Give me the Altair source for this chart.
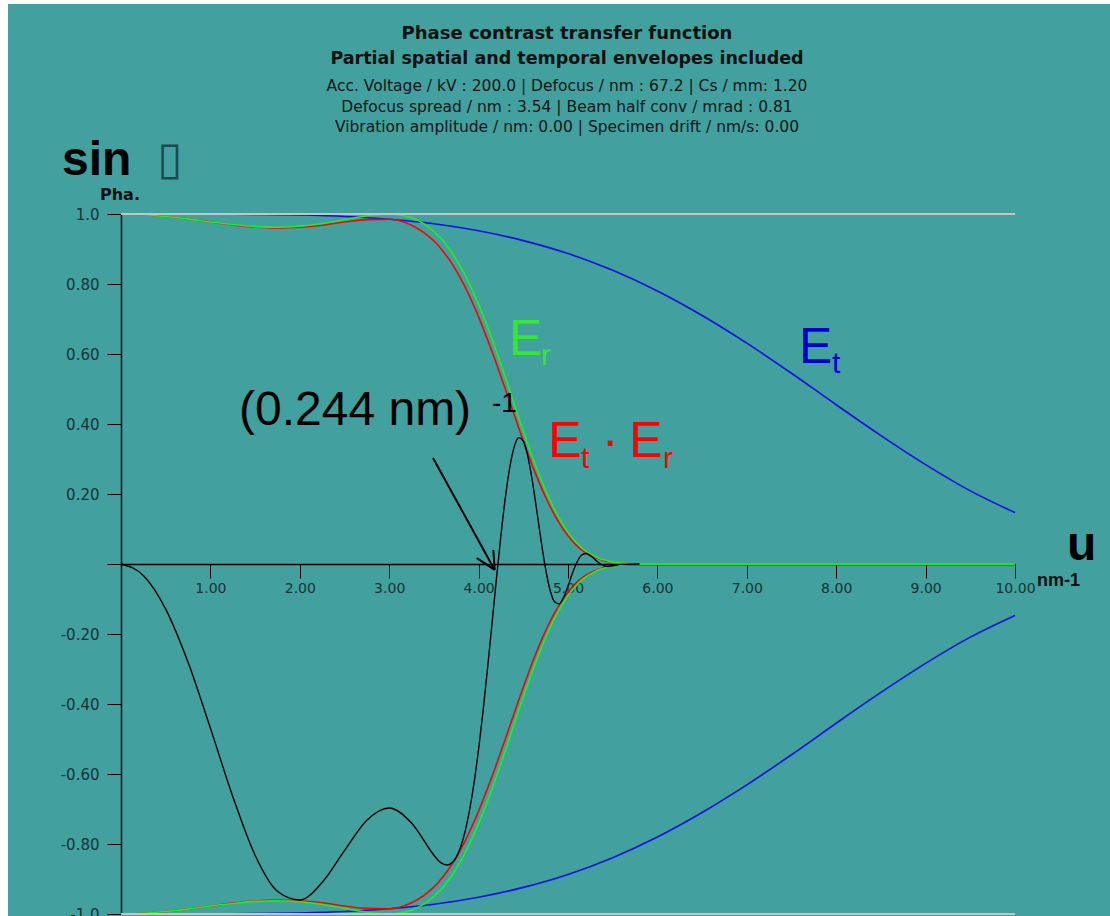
import altair as alt
import pandas as pd

# Spatial frequency grid (nm^-1) for the envelope and CTF curves
u_fine = [0.0, 0.25, 0.5, 0.75, 1.0, 1.25, 1.5, 1.75, 2.0, 2.25, 2.5, 2.75, 3.0, 3.25, 3.5,
          3.55, 3.6, 3.65, 3.7, 3.75, 3.8, 3.85, 3.9, 3.95, 4.0,
          4.05, 4.1, 4.15, 4.2, 4.25, 4.3, 4.35, 4.4, 4.45, 4.5,
          4.55, 4.6, 4.65, 4.7, 4.75, 4.8, 4.85, 4.9, 4.95, 5.0,
          5.05, 5.1, 5.15, 5.2, 5.25, 5.3, 5.35, 5.4, 5.45, 5.5,
          5.6, 5.8, 6.0, 10.0]

# Spatial coherence envelope E_r
spatial_env = [1.000, 0.998, 0.993, 0.986, 0.977, 0.970, 0.964, 0.962, 0.965, 0.973, 0.984, 0.995, 1.000, 0.989, 0.950,
               0.938, 0.924, 0.908, 0.890, 0.870, 0.848, 0.825, 0.799, 0.771, 0.741,
               0.710, 0.677, 0.643, 0.607, 0.570, 0.533, 0.494, 0.456, 0.418, 0.380,
               0.344, 0.308, 0.274, 0.241, 0.210, 0.182, 0.155, 0.131, 0.110, 0.091,
               0.074, 0.060, 0.047, 0.037, 0.029, 0.022, 0.016, 0.012, 0.009, 0.006,
               0.003, 0.0, 0.0, 0.0]

# Combined envelope E_t * E_r
combined_env = [1.000, 0.998, 0.993, 0.986, 0.977, 0.969, 0.963, 0.960, 0.962, 0.968, 0.977, 0.984, 0.985, 0.968, 0.923,
                0.910, 0.894, 0.877, 0.859, 0.838, 0.815, 0.791, 0.764, 0.736, 0.706,
                0.674, 0.641, 0.607, 0.572, 0.535, 0.499, 0.462, 0.425, 0.388, 0.352,
                0.317, 0.282, 0.250, 0.219, 0.191, 0.164, 0.140, 0.118, 0.098, 0.081,
                0.065, 0.052, 0.041, 0.032, 0.025, 0.019, 0.014, 0.010, 0.007, 0.005,
                0.002, 0.0, 0.0, 0.0]

# Phase contrast transfer function (damped sin chi)
u_ctf = u_fine[:57]
ctf = [0.0, -0.033, -0.129, -0.281, -0.469, -0.664, -0.832, -0.935, -0.960, -0.910, -0.819, -0.732, -0.697, -0.740, -0.832,
       -0.847, -0.857, -0.860, -0.854, -0.838, -0.808, -0.763, -0.702, -0.624, -0.529,
       -0.420, -0.298, -0.170, -0.041, 0.082, 0.191, 0.278, 0.336, 0.361, 0.351,
       0.308, 0.239, 0.154, 0.065, -0.015, -0.075, -0.108, -0.114, -0.096, -0.063,
       -0.026, 0.005, 0.025, 0.030, 0.024, 0.013, 0.002, -0.005, -0.007, -0.005,
       -0.001, 0.0]

# Temporal coherence envelope E_t
u_temporal = [0.0, 0.5, 1.0, 1.5, 2.0, 2.5, 3.0, 3.5, 4.0, 4.5, 5.0,
              5.5, 6.0, 6.5, 7.0, 7.5, 8.0, 8.5, 9.0, 9.5, 10.0]
temporal_env = [1.000, 1.000, 1.000, 0.999, 0.997, 0.993, 0.985, 0.972, 0.952, 0.924, 0.887,
                0.839, 0.780, 0.710, 0.631, 0.545, 0.455, 0.367, 0.284, 0.209, 0.147]

x_ticks = [1, 2, 3, 4, 5, 6, 7, 8, 9, 10]
y_ticks = [1.0, 0.8, 0.6, 0.4, 0.2, 0.0, -0.2, -0.4, -0.6, -0.8, -1.0]

W, H = 894, 700
BG = "#42A09E"
LABEL_FONT = "DejaVu Sans"


def mirrored(u, v):
    rows = []
    for branch, sign in (("upper", 1), ("lower", -1)):
        for a, b in zip(u, v):
            rows.append({"u": a, "v": sign * b, "branch": branch})
    return pd.DataFrame(rows)


xs = alt.Scale(domain=[0, 10], nice=False, zero=False)
ys = alt.Scale(domain=[-1, 1], nice=False, zero=False)

x_axis = alt.Axis(values=x_ticks, format=".2f", offset=-H / 2, tickSize=14, tickColor="black",
                  domainColor="black", domainWidth=1.5, labelFont=LABEL_FONT, labelFontSize=14,
                  labelColor="#163434", labelPadding=3, grid=False, title=None, labelFlush=False)
y_axis = alt.Axis(values=y_ticks, tickSize=14, tickColor="black", domainColor="black", domainWidth=1.5,
                  labelExpr="datum.value == 0 ? '' : (datum.value < 0 ? '-' : '') + "
                            "format(abs(datum.value), abs(datum.value) == 1 ? '.1f' : '.2f')",
                  labelFont=LABEL_FONT, labelFontSize=15, labelColor="#163434", labelPadding=8,
                  grid=False, title=None)

X = alt.X("u:Q", scale=xs, axis=x_axis)
Y = alt.Y("v:Q", scale=ys, axis=y_axis)


def curve(df, color, width):
    return alt.Chart(df).mark_line(color=color, strokeWidth=width, interpolate="monotone").encode(
        x=X, y=Y, detail="branch:N", order="u:Q")


blue = curve(mirrored(u_temporal, temporal_env), "#1010E0", 1.6)
red = curve(mirrored(u_fine, combined_env), "#FF0000", 1.6)
green = curve(mirrored(u_fine, spatial_env), "#22EE22", 1.6)
black = alt.Chart(pd.DataFrame({"u": u_ctf, "v": ctf})).mark_line(
    color="black", strokeWidth=1.4, interpolate="monotone").encode(x=X, y=Y, order="u:Q")

limits = alt.Chart(pd.DataFrame({"v": [1.0, -1.0]})).mark_rule(color="#C4C4C4", strokeWidth=2).encode(
    y=Y, x=alt.value(0), x2=alt.value(W))

# Arrow pointing at the first zero crossing, (0.244 nm)^-1
arrow = pd.DataFrame({
    "u": [3.49, 4.18, 4.18],
    "v": [0.303, -0.017, -0.017],
    "u2": [4.18, 4.165, 3.98],
    "v2": [-0.017, 0.040, 0.017],
})
arrow_layer = alt.Chart(arrow).mark_rule(color="black", strokeWidth=2).encode(
    x=X, y=Y, x2="u2:Q", y2="v2:Q")


def label(text, x, y, size, color="black", font="Liberation Sans", weight="normal", align="left"):
    return alt.Chart(pd.DataFrame({"label": [text]})).mark_text(
        font=font, fontSize=size, fontWeight=weight, color=color, align=align, baseline="alphabetic"
    ).encode(text="label:N", x=alt.value(x), y=alt.value(y))


# White page margin along the left and top edges
edge_left = alt.Chart(pd.DataFrame({"k": [0]})).mark_rect(color="white").encode(
    x=alt.value(-121), x2=alt.value(-113), y=alt.value(-214), y2=alt.value(H + 2))
edge_top = alt.Chart(pd.DataFrame({"k": [0]})).mark_rect(color="white").encode(
    x=alt.value(-121), x2=alt.value(W + 95), y=alt.value(-214), y2=alt.value(-210))

header = [
    label("Phase contrast transfer function", W / 2 - 1, -175, 18, "#111111", LABEL_FONT, "bold", "center"),
    label("Partial spatial and temporal envelopes included", W / 2 - 1, -150, 17.5, "#111111", LABEL_FONT, "bold", "center"),
    label("Acc. Voltage / kV : 200.0 | Defocus / nm : 67.2 | Cs / mm: 1.20", W / 2 - 1, -123, 15.5, "#161616", LABEL_FONT, "normal", "center"),
    label("Defocus spread / nm : 3.54 | Beam half conv / mrad : 0.81", W / 2 - 1, -102, 15.5, "#161616", LABEL_FONT, "normal", "center"),
    label("Vibration amplitude / nm: 0.00 | Specimen drift / nm/s: 0.00", W / 2 - 1, -82, 15.5, "#161616", LABEL_FONT, "normal", "center"),
]

annotations = [
    label("sin", -59, -39, 48, "black", "Liberation Sans", "bold"),
    label("\u25AF", 49, -40, 46, "#1E4C4C", "DejaVu Sans", "normal", "center"),
    label("Pha.", -21, -14, 16, "#111111", LABEL_FONT, "bold"),
    label("u", 946, 346, 48, "black", "Liberation Sans", "bold"),
    label("nm-1", 916, 372, 18, "#111111", "Liberation Sans", "bold"),
    label("(0.244 nm)", 118, 211, 48),
    label("-1", 371, 198, 28),
    label("E", 388, 141, 50, "#33E833"),
    label("r", 420, 151, 30, "#33E833"),
    label("E", 678, 149, 50, "#0000CC"),
    label("t", 711, 159, 30, "#0000CC"),
    label("E", 427, 243, 50, "#FF0000"),
    label("t", 460, 254, 30, "#FF0000"),
    label("\u00B7", 489, 243, 50, "#FF0000", "Liberation Sans", "normal", "center"),
    label("E", 508, 243, 50, "#FF0000"),
    label("r", 542, 254, 30, "#FF0000"),
]

chart = alt.layer(
    edge_left, edge_top, blue, red, green, black, limits, arrow_layer, *header, *annotations
).properties(
    width=W, height=H,
    autosize=alt.AutoSizeParams(type="none"),
    padding={"left": 121, "top": 214, "right": 95, "bottom": 2},
    background=BG,
).configure_view(stroke=None)

chart.save("out.html", embed_options={"renderer": "svg", "actions": False})
